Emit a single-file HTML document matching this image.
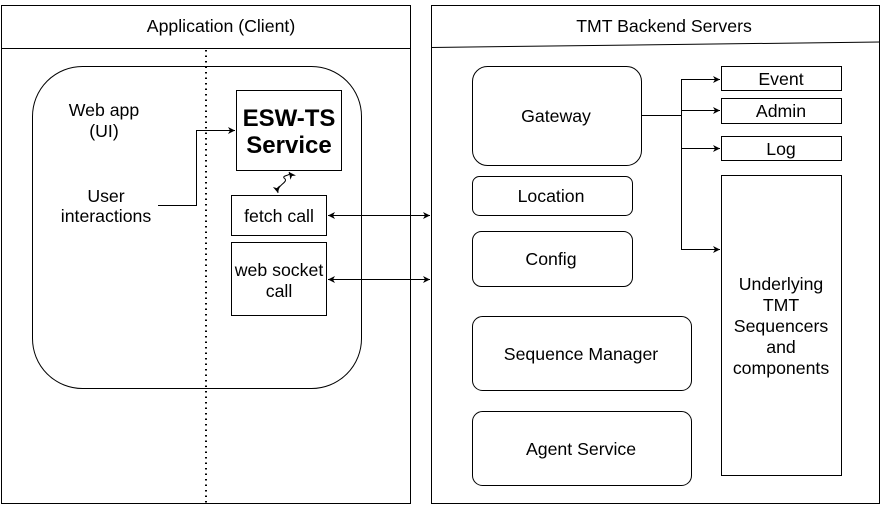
<!DOCTYPE html>
<html><head><style>body{margin:0;background:#fff}svg{display:block}text{font-family:"Liberation Sans",sans-serif;font-size:17.7px;fill:#000;text-anchor:middle}</style></head>
<body>
<svg width="884" height="508" viewBox="0 0 884 508" xmlns="http://www.w3.org/2000/svg">
<defs><marker id="a" markerWidth="8" markerHeight="8" refX="7" refY="4" orient="auto-start-reverse" markerUnits="userSpaceOnUse"><path d="M0,0.5 L7,4 L0,7.5 L2,4z" fill="#000"/></marker></defs>
<g fill="none" stroke="#000" stroke-width="1">
<rect x="1.5" y="5.5" width="409" height="498"/>
<line x1="1" y1="48.5" x2="411" y2="48.5"/>
<line x1="206" y1="50" x2="206" y2="504" stroke-dasharray="1.5,4" stroke-width="2"/>
<rect x="32.5" y="66.5" width="329" height="322" rx="50"/>
<rect x="236.5" y="90.5" width="105" height="80"/>
<rect x="231.5" y="195.5" width="95" height="40"/>
<rect x="231.5" y="242.5" width="95" height="73"/>
<polyline points="158,205.5 196.5,205.5 196.5,130.5 235,130.5" marker-end="url(#a)"/>
<path d="M278,193 C276,185 290,182 284,178 C282,175 292,176 289,172" marker-start="url(#a)" marker-end="url(#a)"/>
<line x1="328" y1="215.5" x2="430" y2="215.5" marker-start="url(#a)" marker-end="url(#a)"/>
<line x1="328" y1="279.5" x2="430" y2="279.5" marker-start="url(#a)" marker-end="url(#a)"/>
<rect x="431.5" y="5.5" width="448" height="498"/>
<line x1="431" y1="47.5" x2="880" y2="42"/>
<rect x="472.5" y="66.5" width="169" height="99" rx="15"/>
<rect x="472.5" y="176.5" width="160" height="39" rx="7"/>
<rect x="472.5" y="231.5" width="160" height="55" rx="9"/>
<rect x="472.5" y="316.5" width="219" height="74" rx="10"/>
<rect x="472.5" y="411.5" width="219" height="74" rx="10"/>
<rect x="721.5" y="66.5" width="120" height="24"/>
<rect x="721.5" y="98.5" width="120" height="25"/>
<rect x="721.5" y="136.5" width="120" height="24"/>
<rect x="721.5" y="175.5" width="120" height="300"/>
<polyline points="641,115.5 681.5,115.5"/>
<line x1="681.5" y1="79" x2="681.5" y2="249"/>
<line x1="681" y1="79.5" x2="720" y2="79.5" marker-end="url(#a)"/>
<line x1="681" y1="110.5" x2="720" y2="110.5" marker-end="url(#a)"/>
<line x1="681" y1="148.5" x2="720" y2="148.5" marker-end="url(#a)"/>
<line x1="681" y1="249.5" x2="720" y2="249.5" marker-end="url(#a)"/>
</g>
<text x="221" y="32">Application (Client)</text>
<text x="664" y="32">TMT Backend Servers</text>
<text x="104" y="116">Web app</text>
<text x="104" y="137">(UI)</text>
<text x="106" y="202">User</text>
<text x="106" y="222">interactions</text>
<text x="289" y="126" style="font-weight:bold;font-size:24px">ESW-TS</text>
<text x="289" y="153" style="font-weight:bold;font-size:24px">Service</text>
<text x="279" y="222">fetch call</text>
<text x="279" y="276">web socket</text>
<text x="279" y="297">call</text>
<text x="556" y="122">Gateway</text>
<text x="551" y="202">Location</text>
<text x="551" y="265">Config</text>
<text x="581" y="360">Sequence Manager</text>
<text x="581" y="455">Agent Service</text>
<text x="781" y="85">Event</text>
<text x="781" y="117">Admin</text>
<text x="781" y="155">Log</text>
<text x="781" y="290">Underlying</text>
<text x="781" y="311">TMT</text>
<text x="781" y="332">Sequencers</text>
<text x="781" y="353">and</text>
<text x="781" y="374">components</text>
</svg>
</body></html>
